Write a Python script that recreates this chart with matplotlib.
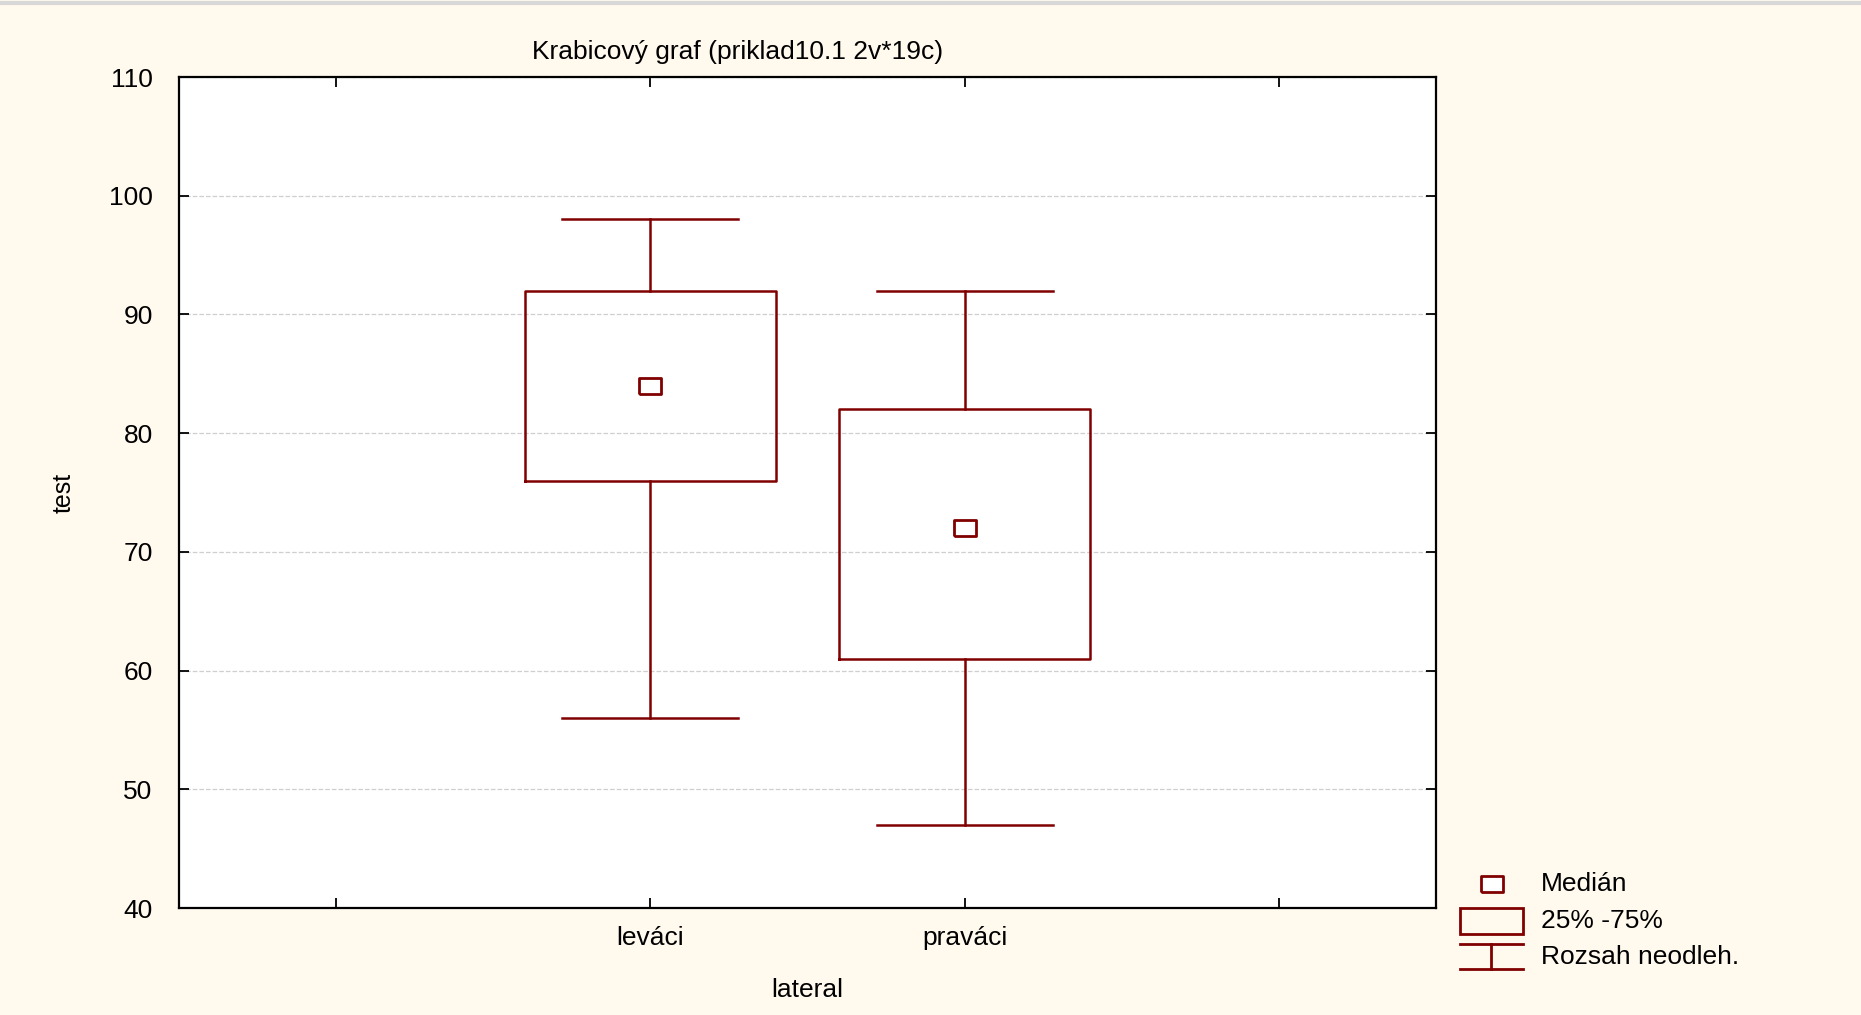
import matplotlib.pyplot as plt
from matplotlib.patches import Rectangle
from matplotlib.lines import Line2D

# data
groups = ['leváci', 'praváci']
positions = [1, 2]
whisk_lo = [56, 47]
q1 = [76, 61]
median = [84, 72]
q3 = [92, 82]
whisk_hi = [98, 92]

red = '#800000'
bg = '#FFF9EE'

plt.rcParams['font.family'] = ['Liberation Sans', 'DejaVu Sans']

fig = plt.figure(figsize=(18.61, 10.15), dpi=100, facecolor=bg)
ax = fig.add_axes([0.0962, 0.1054, 0.6754, 0.8187])

stats = []
for g, lo, a, m, b, hi in zip(groups, whisk_lo, q1, median, q3, whisk_hi):
    stats.append(dict(label=g, whislo=lo, q1=a, med=m, q3=b, whishi=hi, fliers=[]))

lp = dict(color=red, linewidth=1.8)
ax.bxp(stats, positions=positions, widths=0.8, capwidths=0.56,
       boxprops=lp, whiskerprops=lp, capprops=lp,
       medianprops=dict(visible=False), showfliers=False, zorder=3)

# median marker, slightly wider than tall
rect_marker = [(-1.35, -1), (1.35, -1), (1.35, 1), (-1.35, 1), (-1.35, -1)]
ax.plot(positions, median, ls='none', marker=rect_marker, ms=16,
        mfc='white', mec=red, mew=2, zorder=4)

ax.set_xlim(-0.5, 3.5)
ax.set_ylim(40, 110)
ax.set_xticks([0, 1, 2, 3])
ax.set_xticklabels([''] + groups + [''])
ax.set_yticks(range(40, 111, 10))
ax.yaxis.grid(True, ls='--', color='#cfcfcf', lw=0.9)
ax.set_axisbelow(True)

ax.tick_params(direction='in', top=True, right=True, length=7, width=1.3,
               labelsize=19)
ax.tick_params(axis='y', pad=19)
ax.tick_params(axis='x', pad=13)
for s in ax.spines.values():
    s.set_linewidth(1.6)

ax.set_xlabel('lateral', fontsize=19, labelpad=20)
ax.set_ylabel('test', fontsize=18, labelpad=24)
ax.set_title('Krabicový graf (priklad10.1 2v*19c)', fontsize=19,
             x=0.444, pad=13)

# legend drawn by hand below right of the plot
ax.plot([1.0446], [0.0289], transform=ax.transAxes, clip_on=False,
        marker=rect_marker, ms=16, mfc='white', mec=red, mew=2, ls='none')
ax.add_patch(Rectangle((1.019, -0.031), 0.05, 0.031, transform=ax.transAxes,
                       clip_on=False, fill=False, ec=red, lw=2))
for yy in (-0.043, -0.073):
    ax.add_line(Line2D([1.019, 1.069], [yy, yy], transform=ax.transAxes,
                       clip_on=False, color=red, lw=2))
ax.add_line(Line2D([1.044, 1.044], [-0.043, -0.073], transform=ax.transAxes,
                   clip_on=False, color=red, lw=2))
legend_txt = ['Medián', '25% -75%', 'Rozsah neodleh.']
for t, yy in zip(legend_txt, [0.0289, -0.0156, -0.059]):
    ax.text(1.0835, yy, t, transform=ax.transAxes, fontsize=19,
            va='center', ha='left')

fig.add_artist(Line2D([0, 1], [0.997, 0.997], color='#d8d8d8', lw=3))

fig.savefig('out.png', dpi=100, facecolor=bg)
